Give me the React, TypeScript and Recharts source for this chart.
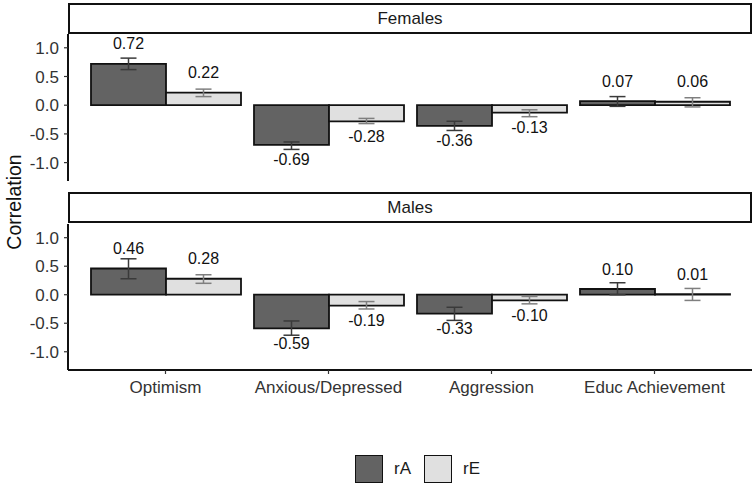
import { BarChart, Bar, XAxis, YAxis, ErrorBar, LabelList } from "recharts";

const categories = ["Optimism", "Anxious/Depressed", "Aggression", "Educ Achievement"];

// Females
const femaleRA = [0.72, -0.69, -0.36, 0.07];
const femaleRE = [0.22, -0.28, -0.13, 0.06];
const femaleRALow = [0.62, -0.77, -0.44, -0.02];
const femaleRAHigh = [0.82, -0.64, -0.28, 0.15];
const femaleRELow = [0.15, -0.32, -0.2, -0.03];
const femaleREHigh = [0.28, -0.23, -0.08, 0.13];

// Males
const maleRA = [0.46, -0.59, -0.33, 0.1];
const maleRE = [0.28, -0.19, -0.1, 0.01];
const maleRALow = [0.28, -0.71, -0.45, 0.0];
const maleRAHigh = [0.63, -0.46, -0.22, 0.21];
const maleRELow = [0.2, -0.25, -0.16, -0.1];
const maleREHigh = [0.35, -0.12, -0.03, 0.11];

const yTicks = [-1, -0.5, 0, 0.5, 1];

const FONT = "'Liberation Sans', Arial, Helvetica, sans-serif";
const DARK = "#636363";
const LIGHT = "#e0e0e0";

const buildRows = (
  ra: number[], re: number[],
  raLow: number[], raHigh: number[],
  reLow: number[], reHigh: number[]
) =>
  categories.map((name, i) => ({
    name,
    rA: ra[i],
    rE: re[i],
    rAErr: [ra[i] - raLow[i], raHigh[i] - ra[i]],
    rEErr: [re[i] - reLow[i], reHigh[i] - re[i]],
  }));

const femaleRows = buildRows(femaleRA, femaleRE, femaleRALow, femaleRAHigh, femaleRELow, femaleREHigh);
const maleRows = buildRows(maleRA, maleRE, maleRALow, maleRAHigh, maleRELow, maleREHigh);

const ValueLabel = (props: any) => {
  const { x, y, width, height, value } = props;
  const top = Math.min(y, y + height);
  const bottom = Math.max(y, y + height);
  const ly = value >= 0 ? top - 20 : bottom + 15;
  return (
    <text
      x={x + width / 2}
      y={ly}
      textAnchor="middle"
      dominantBaseline="central"
      fontSize={16}
      fontFamily={FONT}
      fill="#111"
    >
      {Number(value).toFixed(2)}
    </text>
  );
};

const Strip = ({ label, top }: { label: string; top: number }) => (
  <div
    style={{
      position: "absolute",
      left: 68,
      top,
      width: 684,
      height: 31,
      boxSizing: "border-box",
      border: "2px solid #111",
      background: "#fff",
      display: "flex",
      alignItems: "center",
      justifyContent: "center",
      fontSize: 17,
      color: "#1a1a1a",
      fontFamily: FONT,
    }}
  >
    {label}
  </div>
);

const Panel = ({ rows, showX, height, bottom }: { rows: any[]; showX: boolean; height: number; bottom: number }) => (
  <BarChart
    width={755}
    height={height}
    data={rows}
    margin={{ top: 34, right: 3, bottom, left: 28 }}
    barCategoryGap={7}
    barGap={0}
  >
    <XAxis
      dataKey="name"
      hide={!showX}
      padding={{ left: 16, right: 16 }}
      axisLine={{ stroke: "#111", strokeWidth: 2 }}
      tickLine={{ stroke: "#333", strokeWidth: 1.2 }}
      tickSize={4}
      tickMargin={7}
      height={30}
      interval={0}
      tick={{ fill: "#333", fontSize: 17, fontFamily: FONT }}
    />
    <YAxis
      type="number"
      domain={[-1.32, 1.24]}
      ticks={yTicks}
      allowDataOverflow
      width={40}
      tickFormatter={(v: number) => v.toFixed(1)}
      axisLine={{ stroke: "#111", strokeWidth: 2 }}
      tickLine={{ stroke: "#333", strokeWidth: 1.2 }}
      tickSize={4}
      tickMargin={5}
      tick={{ fill: "#333", fontSize: 17, fontFamily: FONT }}
    />
    <Bar dataKey="rA" fill={DARK} stroke="#111" strokeWidth={1.8} isAnimationActive={false}>
      <ErrorBar dataKey="rAErr" width={8} stroke="#3a3a3a" strokeWidth={1.5} />
      <LabelList dataKey="rA" content={ValueLabel} />
    </Bar>
    <Bar dataKey="rE" fill={LIGHT} stroke="#111" strokeWidth={1.8} isAnimationActive={false}>
      <ErrorBar dataKey="rEErr" width={8} stroke="#7f7f7f" strokeWidth={1.5} />
      <LabelList dataKey="rE" content={ValueLabel} />
    </Bar>
  </BarChart>
);

const LegendKey = ({ color, label, left }: { color: string; label: string; left: number }) => (
  <div style={{ position: "absolute", left, top: 455, display: "flex", alignItems: "center" }}>
    <div
      style={{
        width: 28,
        height: 28,
        boxSizing: "border-box",
        background: color,
        border: "1.5px solid #111",
      }}
    />
    <span style={{ marginLeft: 11, fontSize: 17, fontFamily: FONT, color: "#1a1a1a" }}>{label}</span>
  </div>
);

export default function App() {
  return (
    <div
      style={{
        position: "absolute",
        left: 0,
        top: 0,
        width: 755,
        height: 487,
        background: "#fff",
        overflow: "hidden",
        fontFamily: FONT,
      }}
    >
      <div style={{ position: "absolute", left: 0, top: 0 }}>
        <Panel rows={femaleRows} showX={false} height={190} bottom={9} />
      </div>
      <div style={{ position: "absolute", left: 0, top: 190 }}>
        <Panel rows={maleRows} showX={true} height={220} bottom={10} />
      </div>
      <Strip label="Females" top={3} />
      <Strip label="Males" top={192} />
      <div
        style={{
          position: "absolute",
          left: 14,
          top: 202,
          transform: "translate(-50%, -50%) rotate(-90deg)",
          fontSize: 19.5,
          color: "#111",
          whiteSpace: "nowrap",
        }}
      >
        Correlation
      </div>
      <LegendKey color={DARK} label="rA" left={355} />
      <LegendKey color={LIGHT} label="rE" left={424} />
    </div>
  );
}
